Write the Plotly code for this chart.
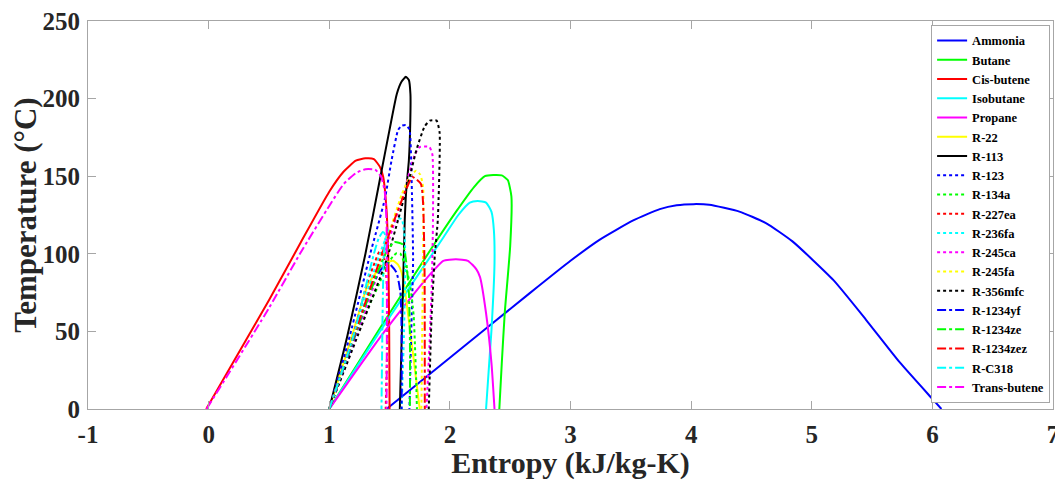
import plotly.graph_objects as go

# ---- data (entropy kJ/kg-K, temperature °C) ----
names = ["Ammonia", "Butane", "Cis-butene", "Isobutane", "Propane", "R-22", "R-113",
         "R-123", "R-134a", "R-227ea", "R-236fa", "R-245ca", "R-245fa", "R-356mfc",
         "R-1234yf", "R-1234ze", "R-1234zez", "R-C318", "Trans-butene"]

ammonia_s = [1.475, 2.0, 2.66, 3.0, 3.24, 3.52, 3.74, 3.88, 4.02, 4.15, 4.40, 4.62, 4.84, 5.18, 5.45, 5.73, 6.0, 6.075]
ammonia_T = [0, 33, 74.5, 95.5, 109, 121.5, 128.8, 131.3, 132, 131.6, 127.2, 119.8, 108, 83, 57.5, 30, 6.5, 0]

butane_s = [1.0, 1.42, 1.86, 2.05, 2.20, 2.29, 2.36, 2.43, 2.48, 2.51, 2.50, 2.455, 2.43, 2.41]
butane_T = [0, 52, 105, 127, 143, 150, 150.8, 150.5, 147.5, 137, 105, 62, 29, 0]

cisbutene_s = [-0.02, 0.5, 0.76, 1.0, 1.12, 1.22, 1.30, 1.37, 1.42, 1.447, 1.475, 1.49, 1.497, 1.50]
cisbutene_T = [0, 70, 106.8, 140, 153, 160, 161.5, 161, 156, 149.7, 128, 96, 50, 0]

isobutane_s = [1.0, 1.42, 1.75, 1.95, 2.07, 2.165, 2.23, 2.30, 2.345, 2.365, 2.37, 2.345, 2.30]
isobutane_T = [0, 50, 88, 111, 125, 133, 134, 133, 127, 115, 94, 51, 0]

propane_s = [1.0, 1.42, 1.70, 1.85, 1.945, 2.05, 2.15, 2.22, 2.25, 2.30, 2.345, 2.37]
propane_T = [0, 46, 74, 88, 95.5, 96.5, 95.5, 90, 85, 61.7, 29.4, 0]

r22_s = [1.0, 1.2, 1.32, 1.42, 1.48, 1.53, 1.57, 1.6, 1.63, 1.655, 1.70, 1.75]
r22_T = [0, 50, 80, 91, 94.5, 95.5, 93, 88, 75, 60, 32, 0]

r113_s = [1.0, 1.15, 1.30, 1.42, 1.50, 1.56, 1.60, 1.635, 1.66, 1.673, 1.672, 1.66, 1.64, 1.626, 1.612, 1.585]
r113_T = [0, 47, 100, 148, 180, 203, 211, 214, 212, 203, 186, 160, 143, 122, 79, 0]

r123_s = [1.0, 1.17, 1.34, 1.46, 1.516, 1.571, 1.60, 1.635, 1.665, 1.682, 1.695, 1.68, 1.665]
r123_T = [0, 47, 100, 135, 160, 179.8, 182.5, 183, 180, 150, 96, 50, 0]

r134a_s = [1.0, 1.2, 1.41, 1.48, 1.53, 1.56, 1.59, 1.64, 1.67, 1.70, 1.711, 1.72, 1.727]
r134a_T = [0, 45, 80, 93, 98.5, 100.5, 100, 90, 80, 60, 40, 20, 0]

r227ea_s = [1.0, 1.2, 1.31, 1.38, 1.42, 1.46, 1.48, 1.48, 1.468]
r227ea_T = [0, 48, 80, 95, 102, 96, 75, 40, 0]

r236fa_s = [1.0, 1.2, 1.334, 1.42, 1.5, 1.56, 1.6, 1.626, 1.63, 1.62, 1.60]
r236fa_T = [0, 46, 80, 100, 116, 122.5, 122.5, 110, 95, 50, 0]

r245ca_s = [1.0, 1.25, 1.5, 1.62, 1.71, 1.75, 1.83, 1.855, 1.86, 1.85, 1.83, 1.806]
r245ca_T = [0, 52, 110, 140, 164, 168.8, 168.8, 164, 122, 80, 40, 0]

r245fa_s = [1.0, 1.2, 1.44, 1.6, 1.67, 1.72, 1.755, 1.778, 1.776, 1.77, 1.764]
r245fa_T = [0, 45, 100, 138, 150, 153.5, 151, 143, 90, 45, 0]

r356mfc_s = [1.0, 1.24, 1.475, 1.571, 1.668, 1.723, 1.79, 1.834, 1.89, 1.915, 1.90, 1.875, 1.847, 1.825]
r356mfc_T = [0, 48, 96, 122, 150, 167, 182, 185.8, 185.8, 178, 122, 99, 57, 0]

r1234yf_s = [1.0, 1.2, 1.36, 1.43, 1.49, 1.557, 1.59, 1.6, 1.6]
r1234yf_T = [0, 44, 80, 90, 94, 88, 75, 50, 0]

r1234ze_s = [1.0, 1.2, 1.4, 1.48, 1.54, 1.61, 1.64, 1.66, 1.668, 1.67, 1.668]
r1234ze_T = [0, 45, 88, 102, 107.5, 106, 93.6, 75, 50, 25, 0]

r1234zez_s = [1.0, 1.2, 1.42, 1.55, 1.64, 1.69, 1.76, 1.778, 1.79, 1.792]
r1234zez_T = [0, 46, 96, 124, 142, 149.5, 145, 132.5, 90, 0]

rc318_s = [1.0, 1.2, 1.37, 1.41, 1.445, 1.465, 1.452, 1.442, 1.433]
rc318_T = [0, 47, 100, 110, 114, 112, 100, 60, 0]

transbutene_s = [-0.017, 0.5, 0.757, 1.005, 1.12, 1.22, 1.30, 1.38, 1.43, 1.46, 1.475, 1.478, 1.475]
transbutene_T = [0, 65, 100, 131.5, 145, 152, 154.5, 154.2, 149.7, 140, 120, 60, 0]

x_ticks = [-1, 0, 1, 2, 3, 4, 5, 6, 7]
y_ticks = [0, 50, 100, 150, 200, 250]

series_s = [ammonia_s, butane_s, cisbutene_s, isobutane_s, propane_s, r22_s, r113_s,
            r123_s, r134a_s, r227ea_s, r236fa_s, r245ca_s, r245fa_s, r356mfc_s,
            r1234yf_s, r1234ze_s, r1234zez_s, rc318_s, transbutene_s]
series_T = [ammonia_T, butane_T, cisbutene_T, isobutane_T, propane_T, r22_T, r113_T,
            r123_T, r134a_T, r227ea_T, r236fa_T, r245ca_T, r245fa_T, r356mfc_T,
            r1234yf_T, r1234ze_T, r1234zez_T, rc318_T, transbutene_T]

# ---- styles ----
palette = ["#0000FF", "#00FF00", "#FF0000", "#00FFFF", "#FF00FF", "#FFFF00", "#000000"]
dashes = ["solid"] * 7 + ["dot"] * 7 + ["dashdot"] * 5

FONT = "Liberation Serif, Times New Roman, serif"

fig = go.Figure()
for i, (nm, s, T) in enumerate(zip(names, series_s, series_T)):
    fig.add_trace(go.Scatter(
        x=s, y=T, mode="lines", name=nm,
        line=dict(color=palette[i % 7], dash=dashes[i], width=2,
                  shape="spline", smoothing=0.5),
    ))

axis_common = dict(
    showline=True, linecolor="#a6a6a6", linewidth=1, mirror="ticks",
    ticks="inside", ticklen=8, tickcolor="#a6a6a6", tickwidth=1,
    showgrid=False, zeroline=False, automargin=False,
    ticklabeloverflow="allow",
    tickfont=dict(family=FONT, size=25, color="#262626", weight="bold"),
)

# page body has an 8px default margin, so the figure is sized to fit the window
fig.update_layout(
    width=1055, height=472,
    margin=dict(l=80, r=10, t=13, b=71),
    paper_bgcolor="white", plot_bgcolor="white",
    xaxis=dict(range=[-1, 7], tickvals=x_ticks, ticktext=[str(v) for v in x_ticks],
               ticklabelstandoff=3,
               title=dict(text="Entropy (kJ/kg-K)", standoff=10,
                          font=dict(family=FONT, size=30, color="#262626", weight="bold")),
               **axis_common),
    yaxis=dict(range=[0, 250], tickvals=y_ticks, ticktext=[str(v) for v in y_ticks],
               ticklabelstandoff=2,
               title=dict(text="Temperature (°C)", standoff=6,
                          font=dict(family=FONT, size=31, color="#262626", weight="bold")),
               **axis_common),
    legend=dict(x=0.997, y=0.99, xanchor="right", yanchor="top",
                bgcolor="white", bordercolor="#a6a6a6", borderwidth=1,
                font=dict(family=FONT, size=12.5, color="#000000", weight="bold"),
                tracegroupgap=0, itemwidth=30),
    showlegend=True,
)

fig.write_html("out.html")
